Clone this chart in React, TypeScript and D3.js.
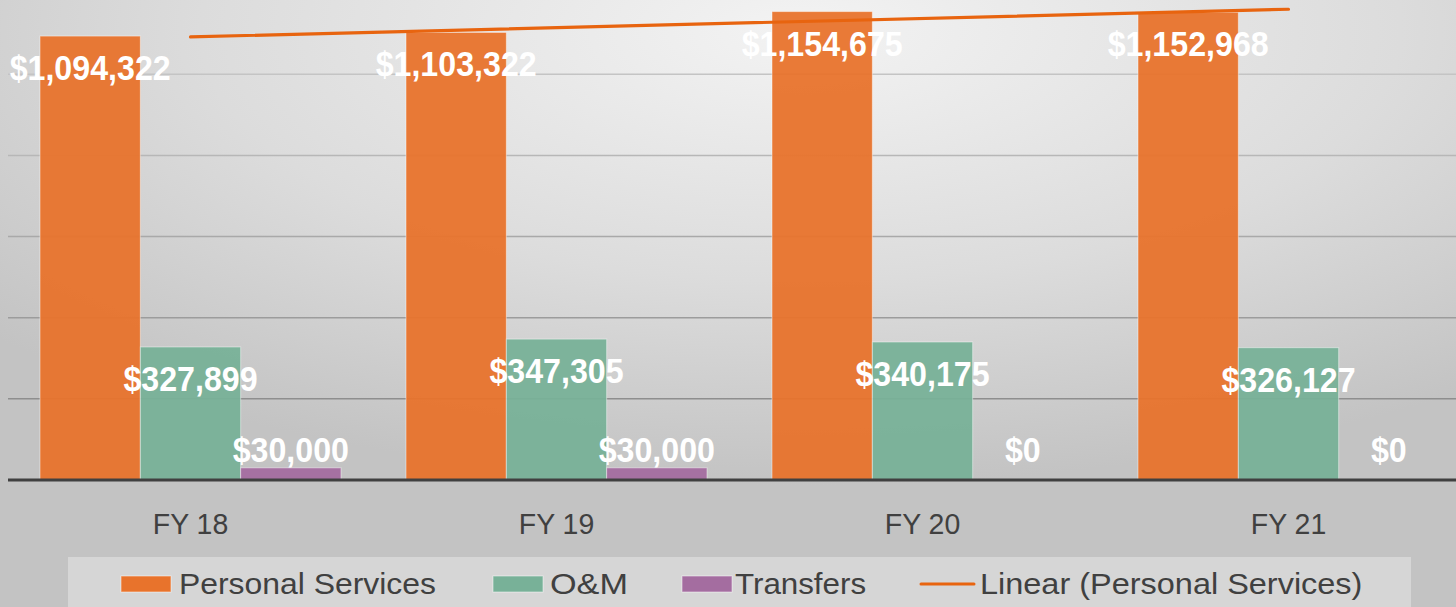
import React from "react";
import * as d3 from "d3";

const categories = ["FY 18", "FY 19", "FY 20", "FY 21"];
const seriesNames = ["Personal Services", "O&M", "Transfers"];
const personalServices = [1094322, 1103322, 1154675, 1152968];
const oAndM = [327899, 347305, 340175, 326127];
const transfers = [30000, 30000, 0, 0];
const gridTicks = [0, 200000, 400000, 600000, 800000, 1000000];
const trendName = "Linear (Personal Services)";

const W = 1456;
const H = 607;
const COLORS = ["#E8732C", "#78B198", "#A46DA0"];
const TREND_COLOR = "#E8640F";

export default function App() {
  const series = [personalServices, oAndM, transfers];
  const x0 = d3.scaleBand<string>().domain(categories).range([7.5, 1471.5]).paddingInner(65 / 366).paddingOuter(32.5 / 366);
  const x1 = d3.scaleBand<string>().domain(seriesNames).range([0, x0.bandwidth()]).padding(0);
  const y = d3.scaleLinear().domain([0, 1200000]).range([480, -6.8]);
  const gridColor = d3.scaleLinear<string>().domain([1000000, 200000]).range(["#c4c4c4", "#8e8e8e"]);

  // linear regression for trend line
  const xs = personalServices.map((_, i) => i + 1);
  const mx = d3.mean(xs)!;
  const my = d3.mean(personalServices)!;
  const slope =
    d3.sum(xs.map((xv, i) => (xv - mx) * (personalServices[i] - my))) /
    d3.sum(xs.map((xv) => (xv - mx) ** 2));
  const intercept = my - slope * mx;
  const center = (c: string) => x0(c)! + x0.bandwidth() / 2;
  const trendPts: [number, number][] = [
    [center(categories[0]), y(intercept + slope * 1)],
    [center(categories[3]), y(intercept + slope * 4)],
  ];
  const line = d3.line();

  const fmt = (v: number) => "$" + d3.format(",")(v);
  const labelY = (v: number) => Math.min(y(v) + 44, y(0) - 18);

  const legendLayout = [
    { sx: 121, tx: 179, sl: 1.1 },
    { sx: 493, tx: 550, sl: 1.18 },
    { sx: 682, tx: 735, sl: 1.08 },
  ];

  return (
    <svg width={W} height={H} style={{ position: "absolute", left: 0, top: 0, display: "block" }}>
      <defs>
        <radialGradient id="bg" cx="0.55" cy="0.05" r="0.75" fx="0.55" fy="0.05">
          <stop offset="0" stopColor="#f3f3f3" />
          <stop offset="0.55" stopColor="#dcdcdc" />
          <stop offset="1" stopColor="#c3c3c3" />
        </radialGradient>
      </defs>
      <rect x={0} y={0} width={W} height={H} fill="url(#bg)" />

      {gridTicks.filter((t) => t > 0).map((t) => (
        <line key={t} x1={8} x2={W} y1={y(t)} y2={y(t)} stroke={gridColor(t)} strokeWidth={1.5} />
      ))}

      {categories.map((c, ci) =>
        series.map((s, si) => {
          const v = s[ci];
          if (v <= 0) return null;
          return (
            <rect
              key={c + si}
              x={x0(c)! + x1(seriesNames[si])!}
              y={y(v)}
              width={x1.bandwidth()}
              height={y(0) - y(v)}
              fill={COLORS[si]}
              fillOpacity={0.95}
              stroke="rgba(255,255,255,0.45)"
              strokeWidth={1}
            />
          );
        })
      )}

      <line x1={8} x2={W} y1={y(0)} y2={y(0)} stroke="#404040" strokeWidth={3} />

      <path d={line(trendPts)!} stroke={TREND_COLOR} strokeWidth={3.2} fill="none" strokeLinecap="round" />

      {categories.map((c, ci) =>
        series.map((s, si) => {
          const v = s[ci];
          const cx = x0(c)! + x1(seriesNames[si])! + x1.bandwidth() / 2;
          return (
            <g key={"l" + c + si} transform={`translate(${cx},${labelY(v)}) scale(0.92,1)`}>
              <text
                textAnchor="middle"
                fontFamily="'Liberation Sans', Arial, sans-serif"
                fontWeight="bold"
                fontSize={35}
                fill="#ffffff"
              >
                {fmt(v)}
              </text>
            </g>
          );
        })
      )}

      {categories.map((c) => (
        <g key={"x" + c} transform={`translate(${center(c)},534) scale(0.95,1)`}>
          <text
            textAnchor="middle"
            fontFamily="'Liberation Sans', Arial, sans-serif"
            fontSize={30}
            fill="#404040"
          >
            {c}
          </text>
        </g>
      ))}

      <rect x={68} y={557} width={1343} height={60} fill="#d9d9d9" fillOpacity={0.85} />
      {seriesNames.map((n, i) => (
        <g key={"lg" + n}>
          <rect x={legendLayout[i].sx} y={576} width={50} height={16} fill={COLORS[i]} stroke="rgba(255,255,255,0.5)" strokeWidth={1} />
          <g transform={`translate(${legendLayout[i].tx},594) scale(${legendLayout[i].sl},1)`}>
            <text fontFamily="'Liberation Sans', Arial, sans-serif" fontSize={29} fill="#404040">
              {n}
            </text>
          </g>
        </g>
      ))}
      <line x1={921} x2={974} y1={584} y2={584} stroke={TREND_COLOR} strokeWidth={3} strokeLinecap="round" />
      <g transform="translate(980,594) scale(1.12,1)">
        <text fontFamily="'Liberation Sans', Arial, sans-serif" fontSize={29} fill="#404040">
          {trendName}
        </text>
      </g>
    </svg>
  );
}
